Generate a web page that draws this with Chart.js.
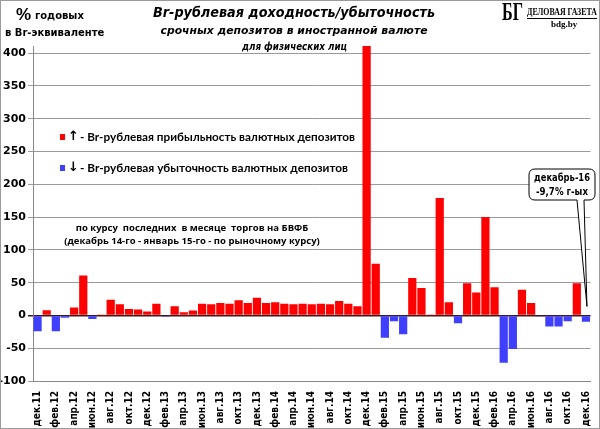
<!DOCTYPE html>
<html>
<head>
<meta charset="utf-8">
<script src="https://cdn.jsdelivr.net/npm/chart.js@4/dist/chart.umd.min.js"></script>
<style>
  html, body { margin: 0; padding: 0; background: #fff; }
  #wrap { width: 600px; height: 429px; position: relative; }
</style>
</head>
<body>
<div id="wrap"><canvas id="chart" width="600" height="429"></canvas></div>
<script>
// months from дек.11 to дек.16
const months = [
  "дек.11",
  "янв.12", "фев.12", "мар.12", "апр.12", "май.12", "июн.12", "июл.12", "авг.12", "сен.12", "окт.12", "ноя.12", "дек.12",
  "янв.13", "фев.13", "мар.13", "апр.13", "май.13", "июн.13", "июл.13", "авг.13", "сен.13", "окт.13", "ноя.13", "дек.13",
  "янв.14", "фев.14", "мар.14", "апр.14", "май.14", "июн.14", "июл.14", "авг.14", "сен.14", "окт.14", "ноя.14", "дек.14",
  "янв.15", "фев.15", "мар.15", "апр.15", "май.15", "июн.15", "июл.15", "авг.15", "сен.15", "окт.15", "ноя.15", "дек.15",
  "янв.16", "фев.16", "мар.16", "апр.16", "май.16", "июн.16", "июл.16", "авг.16", "сен.16", "окт.16", "ноя.16", "дек.16"
];

// Br-ruble yield, % per year
const yieldValues = [
  -24,
  8, -24, -3.5, 12, 61, -5.5, 0.3, 24, 17, 10, 9, 6,
  18, -2, 14, 5, 7.5, 18, 17, 19, 18, 23, 19, 27,
  19, 20, 18, 17, 18, 17, 18, 17, 22, 18, 14, 411,
  79, -34, -9, -28.5, 57, 42, 0.3, 179, 20, -12, 49, 35,
  150, 43, -72, -51, 39, 19, -1.5, -17, -17, -9, 49, -9.7
];

const yTicks = [-100, -50, 0, 50, 100, 150, 200, 250, 300, 350, 400];

const redColor = "#ff0000";
const blueColor = "#3f3fff";

const decorations = {
  id: "decorations",
  afterDraw(chart) {
    const ctx = chart.ctx;
    const xs = chart.scales.x;
    const ys = chart.scales.y;
    ctx.save();

    // outer frame
    ctx.strokeStyle = "#9a9a9a";
    ctx.lineWidth = 1;
    ctx.strokeRect(0.5, 0.5, 599, 428);

    // axis caption
    ctx.fillStyle = "#000";
    ctx.textBaseline = "middle";
    ctx.textAlign = "left";
    ctx.font = "bold 17px 'Liberation Sans'";
    ctx.fillText("%", 16, 15);
    ctx.font = "bold 10px 'DejaVu Sans'";
    ctx.fillText("годовых", 35, 16);
    ctx.fillText("в Br-эквиваленте", 5, 33);

    // titles
    ctx.textAlign = "center";
    ctx.font = "italic bold 14px 'DejaVu Sans'";
    ctx.fillText("Br-рублевая доходность/убыточность", 294, 13, 282);
    ctx.font = "italic bold 11px 'DejaVu Sans'";
    ctx.fillText("срочных депозитов в иностранной валюте", 294, 31, 267);
    ctx.textAlign = "right";
    ctx.font = "italic bold 10px 'DejaVu Sans'";
    ctx.fillText("для физических лиц", 347, 47, 105);

    // logo
    ctx.textAlign = "left";
    ctx.font = "bold 25px 'Liberation Serif'";
    ctx.fillText("БГ", 502, 14, 21);
    ctx.font = "bold 11px 'Liberation Serif'";
    ctx.fillText("ДЕЛОВАЯ ГАЗЕТА", 527, 12, 70);
    ctx.fillRect(527, 18, 70, 1);
    ctx.font = "bold 9px 'Liberation Serif'";
    ctx.fillText("bdg.by", 551, 25);

    // legend-like notes inside the plot
    ctx.fillStyle = redColor;
    ctx.fillRect(60, 134, 5, 6);
    ctx.fillStyle = blueColor;
    ctx.fillRect(60, 165, 5, 6);
    ctx.fillStyle = "#000";
    ctx.font = "bold 13px 'DejaVu Sans'";
    ctx.fillText("↑", 68, 137);
    ctx.fillText("↓", 68, 168);
    ctx.font = "bold 12px 'Lato'";
    ctx.fillText("- Br-рублевая прибыльность валютных депозитов", 80, 137, 275);
    ctx.fillText("- Br-рублевая убыточность валютных депозитов", 80, 168, 268);

    ctx.textAlign = "center";
    ctx.font = "bold 9.5px 'Open Sans'";
    ctx.fillText("по курсу  последних  в месяце  торгов на БВФБ", 192, 228);
    ctx.fillText("(декабрь 14-го - январь 15-го - по рыночному курсу)", 192, 241);

    // callout for the last month
    const last = yieldValues.length - 1;
    const tipX = xs.getPixelForValue(last) + 1;
    const tipY = ys.getPixelForValue(0) - 9;
    const bx = 529, by = 169, bw = 66, bh = 31, r = 6;
    ctx.beginPath();
    ctx.moveTo(bx + r, by);
    ctx.lineTo(bx + bw - r, by);
    ctx.quadraticCurveTo(bx + bw, by, bx + bw, by + r);
    ctx.lineTo(bx + bw, by + bh - r);
    ctx.quadraticCurveTo(bx + bw, by + bh, bx + bw - r, by + bh);
    ctx.lineTo(584, by + bh);
    ctx.lineTo(tipX, tipY);
    ctx.lineTo(577, by + bh);
    ctx.lineTo(bx + r, by + bh);
    ctx.quadraticCurveTo(bx, by + bh, bx, by + bh - r);
    ctx.lineTo(bx, by + r);
    ctx.quadraticCurveTo(bx, by, bx + r, by);
    ctx.closePath();
    ctx.fillStyle = "#fff";
    ctx.fill();
    ctx.strokeStyle = "#000";
    ctx.lineWidth = 1;
    ctx.stroke();
    ctx.fillStyle = "#000";
    ctx.font = "bold 10px 'DejaVu Sans'";
    ctx.fillText("декабрь-16", bx + bw / 2, by + 9, 56);
    ctx.fillText("-9,7% г-ых", bx + bw / 2, by + 23, 52);

    ctx.restore();
  }
};

new Chart(document.getElementById("chart"), {
  type: "bar",
  data: {
    labels: months,
    datasets: [
      {
        data: yieldValues,
        backgroundColor: yieldValues.map((v) => (v >= 0 ? redColor : blueColor)),
        barPercentage: 0.9,
        categoryPercentage: 1,
      },
    ],
  },
  options: {
    responsive: false,
    animation: false,
    layout: { padding: { top: 46, right: 5, left: 0, bottom: 0 } },
    plugins: {
      legend: { display: false },
      tooltip: { enabled: false },
    },
    scales: {
      x: {
        grid: { display: false },
        border: { color: "#888" },
        ticks: {
          autoSkip: false,
          maxRotation: 90,
          minRotation: 90,
          padding: 2,
          color: "#000",
          font: { family: "'DejaVu Sans Condensed', 'DejaVu Sans'", size: 10, weight: "bold" },
          callback: (v, i) => (i % 2 === 0 ? months[i] : ""),
        },
        afterFit: (s) => { s.height = 48; },
      },
      y: {
        min: -100,
        max: 411,
        afterBuildTicks: (s) => {
          s.ticks = yTicks.map((v) => ({ value: v }));
        },
        grid: {
          color: (c) => (c.tick && c.tick.value === 0 ? "#3a1a1a" : "#9a9a9a"),
          lineWidth: (c) => (c.tick && c.tick.value === 0 ? 1.5 : 1),
          tickLength: 5,
        },
        border: { color: "#888" },
        ticks: {
          color: "#000",
          padding: 2,
          font: { family: "'DejaVu Sans'", size: 11, weight: "bold" },
        },
        afterFit: (s) => { s.width = 33; },
      },
    },
  },
  plugins: [decorations],
});
</script>
</body>
</html>
